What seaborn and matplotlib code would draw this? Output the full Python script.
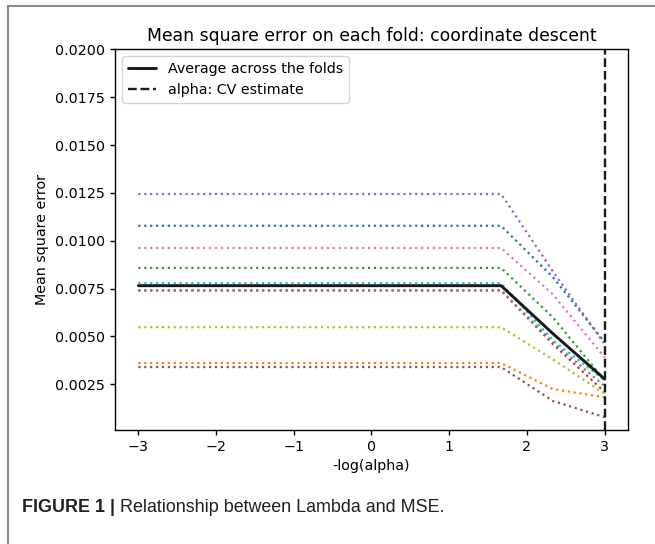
import numpy as np
import pandas as pd
import matplotlib
matplotlib.use('Agg')
import matplotlib.pyplot as plt
from matplotlib.lines import Line2D
import seaborn as sns

# -log(alpha) grid
log_alphas = [-3.0, -2.333, -1.667, -1.0, -0.333, 0.333, 1.0, 1.667, 2.333, 3.0]

# MSE per fold
mse_fold1 = [0.01078, 0.01078, 0.01078, 0.01078, 0.01078, 0.01078, 0.01078, 0.01078, 0.0081, 0.0047]
mse_fold2 = [0.00361, 0.00361, 0.00361, 0.00361, 0.00361, 0.00361, 0.00361, 0.00361, 0.00225, 0.00182]
mse_fold3 = [0.00858, 0.00858, 0.00858, 0.00858, 0.00858, 0.00858, 0.00858, 0.00858, 0.0060, 0.0027]
mse_fold4 = [0.0074, 0.0074, 0.0074, 0.0074, 0.0074, 0.0074, 0.0074, 0.0074, 0.0046, 0.0021]
mse_fold5 = [0.01244, 0.01244, 0.01244, 0.01244, 0.01244, 0.01244, 0.01244, 0.01244, 0.0084, 0.0046]
mse_fold6 = [0.0034, 0.0034, 0.0034, 0.0034, 0.0034, 0.0034, 0.0034, 0.0034, 0.00163, 0.00078]
mse_fold7 = [0.00962, 0.00962, 0.00962, 0.00962, 0.00962, 0.00962, 0.00962, 0.00962, 0.0072, 0.0039]
mse_fold8 = [0.00741, 0.00741, 0.00741, 0.00741, 0.00741, 0.00741, 0.00741, 0.00741, 0.0047, 0.0024]
mse_fold9 = [0.00548, 0.00548, 0.00548, 0.00548, 0.00548, 0.00548, 0.00548, 0.00548, 0.0038, 0.0020]
mse_fold10 = [0.00778, 0.00778, 0.00778, 0.00778, 0.00778, 0.00778, 0.00778, 0.00778, 0.0048, 0.0027]

folds = [mse_fold1, mse_fold2, mse_fold3, mse_fold4, mse_fold5,
         mse_fold6, mse_fold7, mse_fold8, mse_fold9, mse_fold10]
fold_names = ['fold %d' % (i + 1) for i in range(len(folds))]
alpha_cv = 3.0

# long form table for seaborn
rows = []
for name, vals in zip(fold_names, folds):
    for xa, v in zip(log_alphas, vals):
        rows.append({'log_alpha': xa, 'mse': v, 'fold': name})
df = pd.DataFrame(rows)
mean_mse = np.mean(np.array(folds), axis=0)

sns.set_theme(style='ticks', rc={
    'axes.edgecolor': 'black', 'xtick.color': 'black', 'ytick.color': 'black',
    'axes.labelcolor': 'black', 'text.color': 'black', 'axes.linewidth': 1.0,
})
plt.rcParams['font.family'] = ['DejaVu Sans']

fig = plt.figure(figsize=(6.55, 5.44), dpi=100)
ax = fig.add_axes([115 / 655, 1 - 430 / 544, (628 - 115) / 655, (430 - 49.3) / 544])

sns.lineplot(data=df, x='log_alpha', y='mse', hue='fold', palette='tab10',
             linestyle=':', linewidth=1.6, legend=False, estimator=None, ax=ax)
sns.lineplot(x=log_alphas, y=mean_mse, color='k', linewidth=2.1,
             label='Average across the folds', ax=ax)
ax.axvline(alpha_cv, linestyle='--', color='k', linewidth=1.7, label='alpha: CV estimate')

ax.set_ylim(0.00011, 0.0200)
ax.set_xlim(-3.3, 3.3)
ax.set_yticks([0.0025, 0.0050, 0.0075, 0.0100, 0.0125, 0.0150, 0.0175, 0.0200])
ax.set_yticklabels(['0.0025', '0.0050', '0.0075', '0.0100', '0.0125', '0.0150', '0.0175', '0.0200'])
ax.tick_params(labelsize=10.3, length=3.6, width=1.0)
ax.set_xlabel('-log(alpha)', fontsize=10.3)
ax.set_ylabel('Mean square error', fontsize=10.3)
ax.set_title('Mean square error on each fold: coordinate descent', fontsize=12.4)
ax.legend(loc='upper left', fontsize=10.3, frameon=True, fancybox=True, framealpha=0.8)

# page frame of the article figure
fig.add_artist(Line2D([8 / 655, 1], [1 - 6 / 544, 1 - 6 / 544], transform=fig.transFigure,
                      color='#8a8a8a', linewidth=1.5))
fig.add_artist(Line2D([8 / 655, 8 / 655], [0, 1 - 6 / 544], transform=fig.transFigure,
                      color='#8a8a8a', linewidth=1.5))

# caption
cap_y = 1 - 508 / 544
t1 = fig.text(22 / 655, cap_y, 'FIGURE 1 | ', fontsize=12.9, fontweight='bold',
              family='Liberation Sans', color='#231f20', va='center')
renderer = fig.canvas.get_renderer()
bb = t1.get_window_extent(renderer=renderer)
fig.text(bb.x1 / fig.bbox.width, cap_y, 'Relationship between Lambda and MSE.', fontsize=12.9,
         family='Liberation Sans', color='#231f20', va='center')

fig.savefig('out.png', dpi=100)
